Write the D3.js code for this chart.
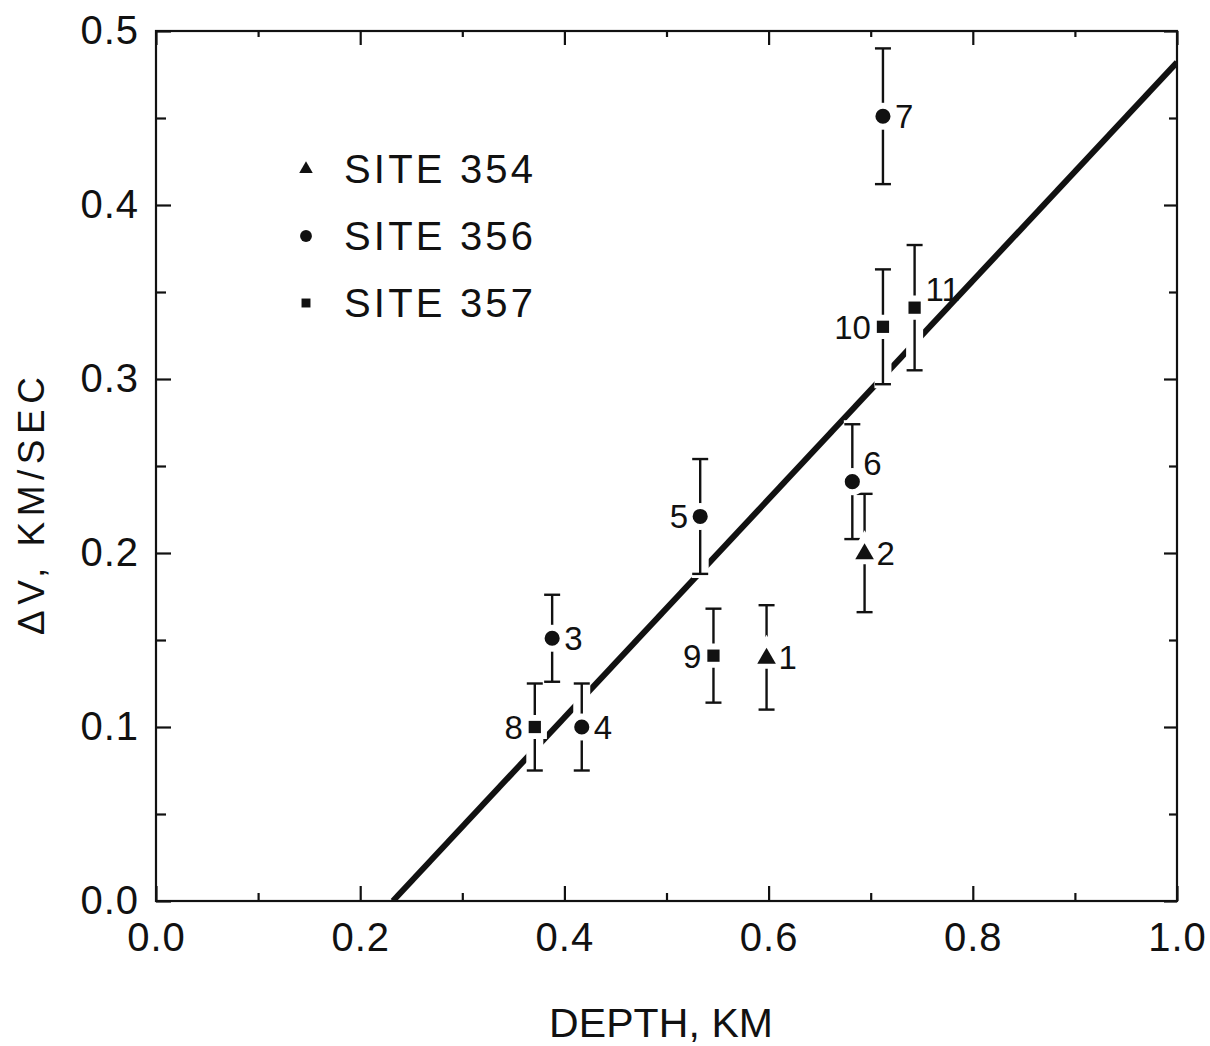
<!DOCTYPE html>
<html>
<head>
<meta charset="utf-8">
<script src="https://cdn.jsdelivr.net/npm/d3@7"></script>
<style>
  html, body { margin: 0; padding: 0; background: #fff; }
  svg { display: block; }
  text { font-family: "Liberation Sans", Arial, sans-serif; fill: #111; }
</style>
</head>
<body>
<svg id="chart" width="1210" height="1046"></svg>
<script>
// ---- data ----
const pointIds   = ["1","2","3","4","5","6","7","8","9","10","11"];
const pointSites = [354, 354, 356, 356, 356, 356, 356, 357, 357, 357, 357];
const depthKm    = [0.598, 0.694, 0.388, 0.417, 0.533, 0.682, 0.712, 0.371, 0.546, 0.712, 0.743];
const deltaV     = [0.140, 0.200, 0.151, 0.100, 0.221, 0.241, 0.451, 0.100, 0.141, 0.330, 0.341];
const errV       = [0.030, 0.034, 0.025, 0.025, 0.033, 0.033, 0.039, 0.025, 0.027, 0.033, 0.036];
const labelSide  = ["e", "e", "e", "e", "w", "ne", "e", "w", "w", "w", "ne"];

const fitX = [0.232, 1.0];
const fitY = [0.0, 0.482];

const legendSites  = [354, 356, 357];
const legendLabels = ["SITE  354", "SITE  356", "SITE  357"];

const xMajorTicks = [0.0, 0.2, 0.4, 0.6, 0.8, 1.0];
const xMajorLabels = ["0.0", "0.2", "0.4", "0.6", "0.8", "1.0"];
const xMinorTicks = [0.1, 0.3, 0.5, 0.7, 0.9];
const yMajorTicks = [0.0, 0.1, 0.2, 0.3, 0.4, 0.5];
const yMajorLabels = ["0.0", "0.1", "0.2", "0.3", "0.4", "0.5"];
const yMinorTicks = [0.05, 0.15, 0.25, 0.35, 0.45];

const xTitle = "DEPTH, KM";
const yTitle = "\u0394V, KM/SEC";

// ---- layout ----
const L = 156, R = 1177, T = 31, B = 901;
const svg = d3.select("#chart");
const x = d3.scaleLinear().domain([0, 1]).range([L, R]);
const y = d3.scaleLinear().domain([0, 0.5]).range([B, T]);

const ink = "#111";

// frame
svg.append("rect").attr("x", L).attr("y", T).attr("width", R - L).attr("height", B - T)
  .attr("fill", "none").attr("stroke", ink).attr("stroke-width", 2.2);

function styleAxis(g) {
  g.select(".domain").remove();
  g.selectAll(".tick line").attr("stroke", ink).attr("stroke-width", 2.2);
}

// x axes (bottom + top), inward ticks
const bottomMaj = svg.append("g").attr("transform", `translate(0,${B})`)
  .call(d3.axisBottom(x).tickValues(xMajorTicks).tickSize(-15).tickPadding(22)
    .tickFormat((d, i) => xMajorLabels[i]));
styleAxis(bottomMaj);
bottomMaj.selectAll(".tick text").attr("font-size", 40).attr("fill", ink)
  .attr("letter-spacing", 1).attr("font-family", "Liberation Sans, Arial, sans-serif");
const bottomMin = svg.append("g").attr("transform", `translate(0,${B})`)
  .call(d3.axisBottom(x).tickValues(xMinorTicks).tickSize(-8).tickFormat(""));
styleAxis(bottomMin);
const topMaj = svg.append("g").attr("transform", `translate(0,${T})`)
  .call(d3.axisTop(x).tickValues(xMajorTicks).tickSize(-14).tickFormat(""));
styleAxis(topMaj);
const topMin = svg.append("g").attr("transform", `translate(0,${T})`)
  .call(d3.axisTop(x).tickValues(xMinorTicks).tickSize(-6).tickFormat(""));
styleAxis(topMin);

// y axes (left + right)
const leftMaj = svg.append("g").attr("transform", `translate(${L},0)`)
  .call(d3.axisLeft(y).tickValues(yMajorTicks).tickSize(-15).tickPadding(17)
    .tickFormat((d, i) => yMajorLabels[i]));
styleAxis(leftMaj);
leftMaj.selectAll(".tick text").attr("font-size", 40).attr("fill", ink)
  .attr("letter-spacing", 1).attr("font-family", "Liberation Sans, Arial, sans-serif");
const leftMin = svg.append("g").attr("transform", `translate(${L},0)`)
  .call(d3.axisLeft(y).tickValues(yMinorTicks).tickSize(-10).tickFormat(""));
styleAxis(leftMin);
const rightMaj = svg.append("g").attr("transform", `translate(${R},0)`)
  .call(d3.axisRight(y).tickValues(yMajorTicks).tickSize(-13).tickFormat(""));
styleAxis(rightMaj);
const rightMin = svg.append("g").attr("transform", `translate(${R},0)`)
  .call(d3.axisRight(y).tickValues(yMinorTicks).tickSize(-8).tickFormat(""));
styleAxis(rightMin);

// titles
svg.append("text").attr("x", 661).attr("y", 1037).attr("text-anchor", "middle")
  .attr("font-size", 41).attr("textLength", 224).attr("lengthAdjust", "spacing").text(xTitle);
svg.append("text").attr("transform", "translate(44,506) rotate(-90)").attr("text-anchor", "middle")
  .attr("font-size", 37).attr("textLength", 258).attr("lengthAdjust", "spacing").text(yTitle);

// clip for fit line
svg.append("clipPath").attr("id", "plotclip").append("rect")
  .attr("x", L).attr("y", T).attr("width", R - L).attr("height", B - T);

// regression line
svg.append("line")
  .attr("clip-path", "url(#plotclip)")
  .attr("x1", x(fitX[0])).attr("y1", y(fitY[0]))
  .attr("x2", x(fitX[1])).attr("y2", y(fitY[1]))
  .attr("stroke", ink).attr("stroke-width", 6);

const pts = pointIds.map((id, i) => ({
  id, site: pointSites[i], x: depthKm[i], y: deltaV[i], e: errV[i], side: labelSide[i]
}));

// white halos of error bars (break the fit line)
svg.append("g").selectAll("line").data(pts).join("line")
  .attr("x1", d => x(d.x)).attr("x2", d => x(d.x))
  .attr("y1", d => y(d.y + d.e) - 4).attr("y2", d => y(d.y - d.e) + 4)
  .attr("stroke", "#fff").attr("stroke-width", 17);

// error bars
const eb = svg.append("g").attr("stroke", ink).attr("stroke-width", 2.4);
pts.forEach(d => {
  const cx = x(d.x);
  eb.append("line").attr("x1", cx).attr("x2", cx).attr("y1", y(d.y + d.e)).attr("y2", y(d.y - d.e));
  eb.append("line").attr("x1", cx - 8).attr("x2", cx + 8).attr("y1", y(d.y + d.e)).attr("y2", y(d.y + d.e));
  eb.append("line").attr("x1", cx - 8).attr("x2", cx + 8).attr("y1", y(d.y - d.e)).attr("y2", y(d.y - d.e));
});

// markers
const symbolFor = { 354: d3.symbolTriangle, 356: d3.symbolCircle, 357: d3.symbolSquare };
const sizeFor = { 354: 150, 356: 180, 357: 150 };
const mk = svg.append("g");
mk.selectAll("path.halo").data(pts).join("path").attr("class", "halo")
  .attr("transform", d => `translate(${x(d.x)},${y(d.y)})`)
  .attr("d", d => d3.symbol(symbolFor[d.site], sizeFor[d.site])())
  .attr("fill", "#fff").attr("stroke", "#fff").attr("stroke-width", 12);
mk.selectAll("path.m").data(pts).join("path").attr("class", "m")
  .attr("transform", d => `translate(${x(d.x)},${y(d.y) + (d.site === 354 ? 1 : 0)})`)
  .attr("d", d => d3.symbol(symbolFor[d.site], sizeFor[d.site])())
  .attr("fill", ink);

// point labels
svg.append("g").selectAll("text").data(pts).join("text")
  .attr("font-size", 33)
  .attr("x", d => x(d.x) + (d.side === "w" ? -12 : d.side === "ne" ? 11 : 12))
  .attr("y", d => y(d.y) + (d.side === "ne" ? -7 : 12))
  .attr("text-anchor", d => d.side === "w" ? "end" : "start")
  .text(d => d.id);

// legend
const lg = svg.append("g");
legendSites.forEach((s, i) => {
  const cy = 169 + i * 67;
  lg.append("path").attr("transform", `translate(306,${cy})`)
    .attr("d", d3.symbol(symbolFor[s], s === 356 ? 110 : 80)()).attr("fill", ink);
  lg.append("text").attr("x", 344).attr("y", cy + 14).attr("font-size", 40)
    .attr("textLength", 189).attr("lengthAdjust", "spacing").text(legendLabels[i]);
});
</script>
</body>
</html>
